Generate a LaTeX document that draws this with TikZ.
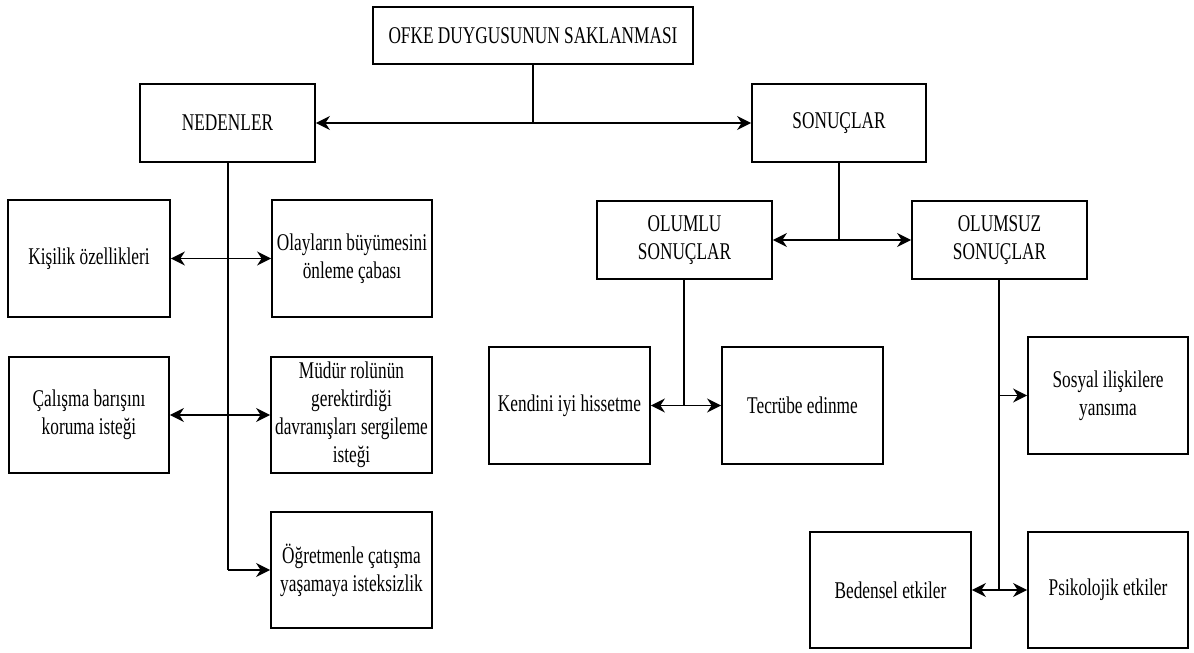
\documentclass[tikz,border=0pt]{standalone}
\usepackage{fontspec}
\setmainfont{Liberation Serif}[FakeStretch=0.72]
\usetikzlibrary{arrows.meta}
\tikzset{
  box/.style={draw=black, line width=1.8pt, fill=white, inner sep=0pt, align=center,
    font=\fontsize{24}{28}\selectfont},
  conn/.style={line width=1.8pt, draw=black},
  tip/.style={-{Stealth[length=14pt,width=14pt,inset=4.5pt]}},
  tips/.style={{Stealth[length=14pt,width=14pt,inset=4.5pt]}-{Stealth[length=14pt,width=14pt,inset=4.5pt]}}
}
\begin{document}
\begin{tikzpicture}[x=1pt,y=-1pt]
\useasboundingbox[fill=white] (0,0) rectangle (1194,653);
% nodes
\node[box, minimum width=320pt, minimum height=57pt] (top) at (533,35.5) {OFKE DUYGUSUNUN SAKLANMASI};
\node[box, minimum width=175pt, minimum height=78pt] (ned) at (227.5,123) {NEDENLER};
\node[box, minimum width=174pt, minimum height=78pt] (son) at (839,123) {SONUÇLAR};
\node[box, minimum width=162pt, minimum height=117pt] (kis) at (89,258.5) {Kişilik özellikleri};
\node[box, minimum width=160pt, minimum height=117pt] (ola) at (352,258.5) {Olayların büyümesini\\önleme çabası};
\node[box, minimum width=160pt, minimum height=116pt] (cal) at (89,415) {Çalışma barışını\\koruma isteği};
\node[box, minimum width=161pt, minimum height=116pt] (mud) at (351.5,415) {Müdür rolünün\\gerektirdiği\\davranışları sergileme\\isteği};
\node[box, minimum width=161pt, minimum height=116pt] (ogr) at (351.5,570) {Öğretmenle çatışma\\yaşamaya isteksizlik};
\node[box, minimum width=175pt, minimum height=78pt] (olu) at (684.5,240) {OLUMLU\\SONUÇLAR};
\node[box, minimum width=175pt, minimum height=78pt] (olz) at (999.5,240) {OLUMSUZ\\SONUÇLAR};
\node[box, minimum width=161pt, minimum height=117pt] (ken) at (569.5,405.5) {Kendini iyi hissetme};
\node[box, minimum width=161pt, minimum height=117pt] (tec) at (802.5,405.5) {Tecrübe edinme};
\node[box, minimum width=160pt, minimum height=117pt] (sos) at (1108,395.5) {Sosyal ilişkilere\\yansıma};
\node[box, minimum width=161pt, minimum height=116pt] (bed) at (890.5,590) {Bedensel etkiler};
\node[box, minimum width=160pt, minimum height=116pt] (psi) at (1108,590) {Psikolojik etkiler};
% junction coordinates
\coordinate (j1) at (533,123);
\coordinate (j2) at (228,570);
\coordinate (j3) at (839,240);
\coordinate (j4) at (684,405.5);
\coordinate (j5) at (999,590);
% connectors
\draw[conn] (top.south) -- (j1);
\draw[conn, tips] (ned.east) -- (son.west);
\draw[conn] (ned.south -| j2) -- (j2);
\draw[conn, tip] (j2) -- (ogr.west);
\draw[conn, tips] (kis.east) -- (ola.west);
\draw[conn, tips] (cal.east) -- (mud.west);
\draw[conn] (son.south) -- (j3);
\draw[conn, tips] (olu.east) -- (olz.west);
\draw[conn] (olu.south -| j4) -- (j4);
\draw[conn, tips] (ken.east) -- (tec.west);
\draw[conn] (olz.south -| j5) -- (j5);
\draw[conn, tips] (bed.east) -- (psi.west);
\draw[conn, tip] (j5 |- sos.west) -- (sos.west);
\end{tikzpicture}
\end{document}
